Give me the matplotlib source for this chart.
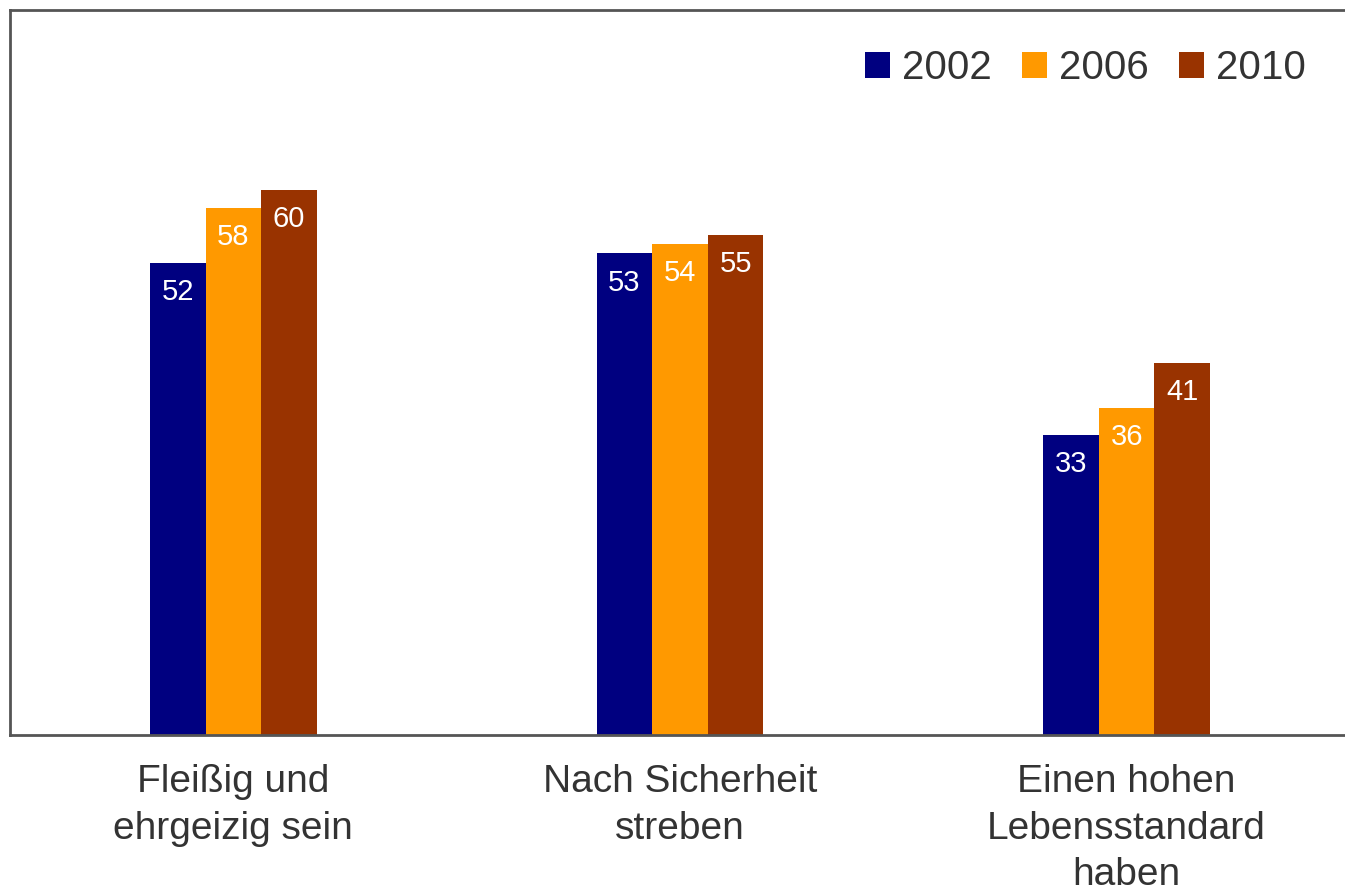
import numpy as np
from matplotlib import pyplot as plt

plt.rcParams['font.family'] = ['Liberation Sans', 'DejaVu Sans']

categories = ['Fleißig und\nehrgeizig sein', 'Nach Sicherheit\nstreben', 'Einen hohen\nLebensstandard\nhaben']
years = ['2002', '2006', '2010']
v2002 = [52, 53, 33]
v2006 = [58, 54, 36]
v2010 = [60, 55, 41]
colors = ['#000080', '#FF9900', '#993300']

W, H = 1345, 894
fig = plt.figure(figsize=(W / 100, H / 100), dpi=100)
# axes slightly wider than canvas so the right border is cut off
ax = fig.add_axes([10 / W, 159 / H, 1340 / W, 725 / H])

x = np.arange(len(categories))
bw = 0.1245
for i, (vals, yr, c) in enumerate(zip([v2002, v2006, v2010], years, colors)):
	pos = x + (i - 1) * bw
	ax.bar(pos, vals, bw, color=c, label=yr)
	for px, v in zip(pos, vals):
		ax.text(px, v - 3.2, str(v), ha='center', va='center', color='white', fontsize=21)

ax.set_xlim(-0.5, 2.5)
ax.set_ylim(0, 79.8)
ax.set_yticks([])
ax.set_xticks(x)
ax.set_xticklabels(categories, fontsize=28, color='#333333', linespacing=1.37)
ax.tick_params(axis='x', length=0, pad=21)
for s in ['top', 'left', 'bottom']:
	ax.spines[s].set_color('#555555')
	ax.spines[s].set_linewidth(2)
ax.spines['right'].set_visible(False)

leg = ax.legend(loc='upper right', bbox_to_anchor=(1332 / 1340, 0.996), ncol=3, frameon=False,
	fontsize=29, handlelength=0.62, handleheight=0.62, handletextpad=0.3, columnspacing=0.75)
for t in leg.get_texts():
	t.set_color('#333333')

fig.savefig('out.png', dpi=100)
